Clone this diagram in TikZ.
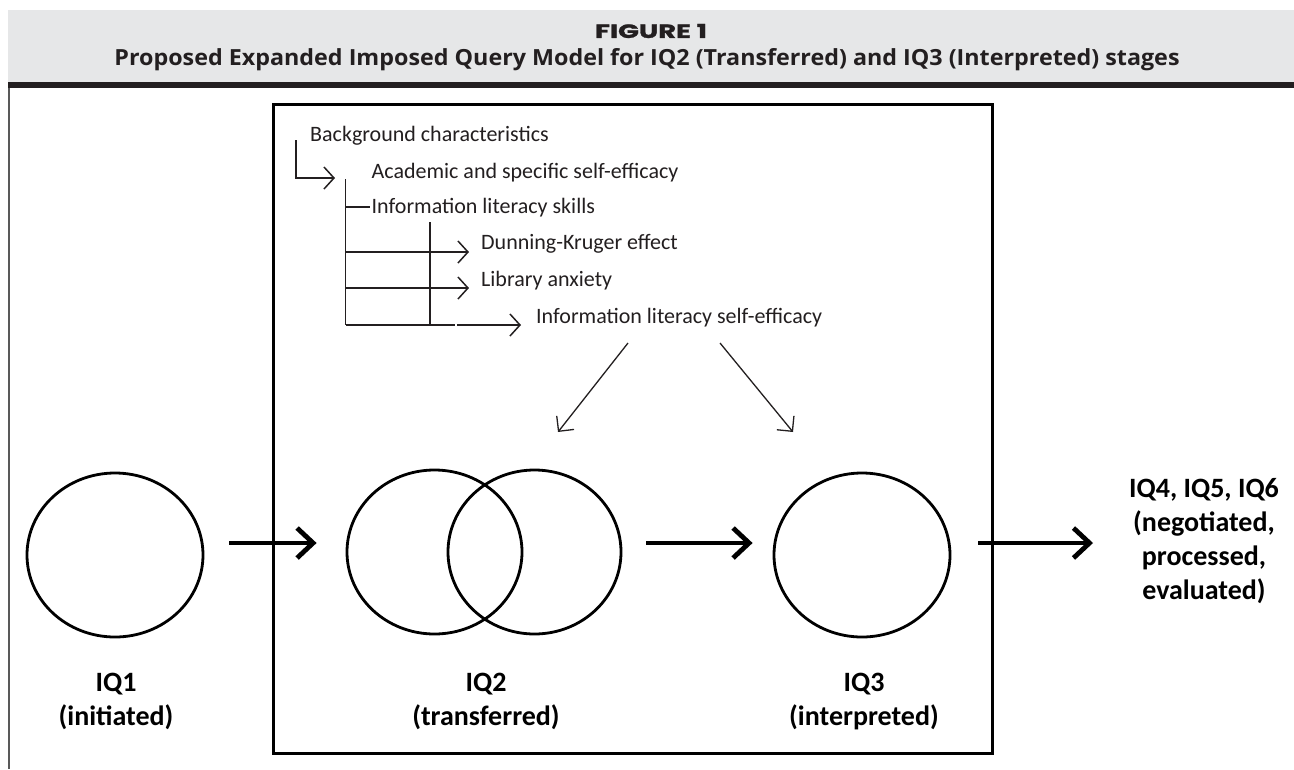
\documentclass[tikz,border=0pt]{standalone}
\usepackage{fontspec}
\setmainfont{Carlito}
\newfontfamily\headfont{Open Sans}
\newfontfamily\figfont[FakeBold=1.2]{Poppins}
\usetikzlibrary{arrows.meta,shapes.geometric,calc}
\definecolor{band}{HTML}{E6E7E8}
\definecolor{ink}{HTML}{231F20}
\tikzset{
  stage/.style={ellipse, draw, line width=2.8pt, minimum width=176pt, minimum height=164pt, inner sep=0pt},
  bigarrow/.style={line width=4.8pt, -{Straight Barb[length=16pt,width=30pt]}},
  lbl/.style={font=\bfseries\fontsize{28}{34}\selectfont, align=center, inner sep=0pt, anchor=north},
  tt/.style={font=\fontsize{22}{26}\selectfont, inner sep=0pt, anchor=base west, text=ink},
  treeline/.style={line width=1.5pt, draw=ink},
  treearrow/.style={treeline, -{Straight Barb[length=10pt,width=22pt]}},
  diagarrow/.style={line width=1.3pt, draw=ink, -{Straight Barb[length=11pt,width=22pt]}}
}
\begin{document}
\begin{tikzpicture}[x=1pt,y=-1pt]
\useasboundingbox (0,0) rectangle (1294,769);
\fill[white] (0,0) rectangle (1294,769);
% header
\fill[band] (8,10) rectangle (1294,82);
\fill[ink] (8,82) rectangle (1294,88);
\draw[gray!70!black, line width=1.5pt] (9,88) -- (9,769);
\node[inner sep=0pt, text=ink] (fig) at (651,31) {\resizebox{112pt}{14pt}{\figfont\bfseries FIGURE 1}};
\node[inner sep=0pt, text=ink, anchor=base] (title) at (647,65) {\resizebox{1065pt}{17pt}{\headfont\bfseries Proposed Expanded Imposed Query Model for IQ2 (Transferred) and IQ3 (Interpreted) stages}};
% frame
\draw[line width=3pt] (273,104) rectangle (992,753);
% stages
\node[stage] (iq1) at (115,555) {};
\node[stage, minimum width=175pt] (iq2a) at (434.5,552) {};
\node[stage, minimum width=173pt] (iq2b) at (534.5,552) {};
\node[stage] (iq3) at (862,555) {};
\coordinate (tip) at (1093,543);
\draw[bigarrow] ($(iq1.east)+(25,-12)$) -- ($(iq2a.west)+(-29,-9)$);
\draw[bigarrow] ($(iq2b.east)+(24,-9)$) -- ($(iq3.west)+(-20,-12)$);
\draw[bigarrow] ($(iq3.east)+(27,-12)$) -- (tip);
% labels
\node[lbl] (l1) at (116,673) {IQ1\\(initiated)};
\node[lbl] (l2) at (486,673) {IQ2\\(transferred)};
\node[lbl] (l3) at (864,673) {IQ3\\(interpreted)};
\node[lbl] (out) at (1204,478) {IQ4, IQ5, IQ6\\(negotiated,\\processed,\\evaluated)};
% tree texts
\node[tt] (bg) at (310,141) {Background characteristics};
\node[tt] (acad) at (371.5,178) {Academic and specific self-efficacy};
\node[tt] (ils) at (371.5,213) {Information literacy skills};
\node[tt] (dk) at (481,249) {Dunning-Kruger effect};
\node[tt] (la) at (481,286) {Library anxiety};
\node[tt] (ilse) at (536,323) {Information literacy self-efficacy};
% tree connectors
\coordinate (e0) at (296,140);
\coordinate (v0) at (345.5,179);
\coordinate (v1) at (345.5,325);
\coordinate (w0) at (430,222);
\coordinate (w1) at (430,325);
\coordinate (gap) at (456,325);
\draw[treearrow] (e0) |- ($(acad.base west)+(-36.5,0)$);
\draw[treeline] (v0) -- (v1);
\draw[treeline] (w0) -- (w1);
\draw[treeline] (345.5,207) -- ($(ils.base west)+(-2,-6)$);
\draw[treearrow] (345.5,252) -- ($(dk.base west)+(-12,3)$);
\draw[treearrow] (345.5,288) -- ($(la.base west)+(-12,2)$);
\draw[treeline] (v1) -- ($(gap)+(-1,0)$);
\draw[treearrow] ($(gap)+(1,0)$) -- ($(ilse.base west)+(-15,2)$);
% diagonal arrows
\coordinate (d1s) at (628,343);
\coordinate (d1e) at (558,432);
\coordinate (d2s) at (720,343);
\coordinate (d2e) at (793,432);
\draw[diagarrow] (d1s) -- (d1e);
\draw[diagarrow] (d2s) -- (d2e);
\end{tikzpicture}
\end{document}
